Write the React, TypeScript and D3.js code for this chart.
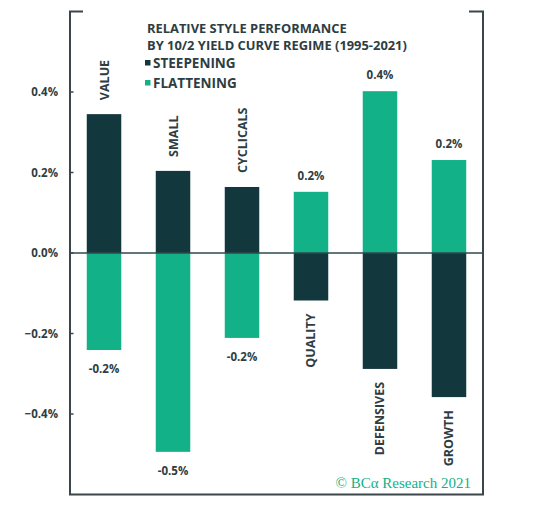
import React from "react";
import * as d3 from "d3";

const categories = ["VALUE", "SMALL", "CYCLICALS", "QUALITY", "DEFENSIVES", "GROWTH"];
const steepening = [0.345, 0.204, 0.164, -0.118, -0.288, -0.358];
const flattening = [-0.241, -0.494, -0.211, 0.152, 0.402, 0.231];
const flatLabels = ["-0.2%", "-0.5%", "-0.2%", "0.2%", "0.4%", "0.2%"];
const yTicks = [0.4, 0.2, 0.0, -0.2, -0.4];
const titleLines = ["RELATIVE STYLE PERFORMANCE", "BY 10/2 YIELD CURVE REGIME (1995-2021)"];
const legendItems = ["STEEPENING", "FLATTENING"];

const W = 541;
const H = 521;
const DARK = "#12373d";
const GREEN = "#13b187";
const TEXT = "#2e3d42";
const AXIS = "#3a4649";
const SANS = "'Open Sans', Lato, sans-serif";

export default function App() {
  const left = 70;
  const right = 483;
  const top = 11.5;
  const bottom = 494.5;
  const x = d3.scaleBand<string>().domain(categories).range([left, right]).paddingInner(0.5).paddingOuter(0.243);
  const y = d3.scaleLinear().domain([-0.6, 0.6]).range([bottom, top]);
  const bw = x.bandwidth();
  const y0 = y(0);

  return (
    <svg width={W} height={H} style={{ position: "absolute", left: 0, top: 0, background: "#fff" }}>
      {/* frame */}
      <path d={`M${left + 13},${top} H${left} V${bottom} H${right} V${top} H${right - 14}`} fill="none" stroke={AXIS} strokeWidth={2} />
      {/* y ticks */}
      {yTicks.map((t) => (
        <g key={t}>
          <line x1={left} x2={left + 3.5} y1={y(t)} y2={y(t)} stroke={AXIS} strokeWidth={1.5} />
          <text x={58} y={y(t)} dy="0.35em" textAnchor="end" fontFamily={SANS} fontWeight={700} fontSize={11.5} fill={TEXT}>
            {d3.format(".1f")(t)}%
          </text>
        </g>
      ))}
      {/* bars */}
      {categories.map((c, i) => {
        const xs = x(c)!;
        const s = steepening[i];
        const f = flattening[i];
        return (
          <g key={c}>
            <rect x={xs} width={bw} y={Math.min(y(s), y0)} height={Math.abs(y(s) - y0)} fill={DARK} />
            <rect x={xs} width={bw} y={Math.min(y(f), y0)} height={Math.abs(y(f) - y0)} fill={GREEN} />
          </g>
        );
      })}
      {/* zero line */}
      <line x1={left} x2={right} y1={y0} y2={y0} stroke="#2f4a4e" strokeWidth={1.3} />
      {/* category labels */}
      {categories.map((c, i) => {
        const cx = x(c)! + bw / 2;
        const s = steepening[i];
        const pos = s > 0;
        const yy = pos ? y(s) - 14 : y(s) + 13;
        return (
          <text
            key={c}
            transform={`translate(${cx + 4.5},${yy}) rotate(-90)`}
            textAnchor={pos ? "start" : "end"}
            fontFamily={SANS}
            fontWeight={700}
            fontSize={12.5}
            fill={TEXT}
          >
            {c}
          </text>
        );
      })}
      {/* flattening value labels */}
      {categories.map((c, i) => {
        const cx = x(c)! + bw / 2;
        const f = flattening[i];
        const yy = f > 0 ? y(f) - 16 : y(f) + 19;
        return (
          <text key={c} x={cx} y={yy} dy="0.35em" textAnchor="middle" fontFamily={SANS} fontWeight={700} fontSize={11.5} fill={TEXT}>
            {flatLabels[i]}
          </text>
        );
      })}
      {/* title */}
      {titleLines.map((t, i) => (
        <text key={t} x={147} y={33 + i * 17} fontFamily={SANS} fontWeight={700} fontSize={12.9} fill={TEXT}>
          {t}
        </text>
      ))}
      {/* legend */}
      {legendItems.map((t, i) => (
        <g key={t} transform={`translate(145,${63 + i * 20})`}>
          <rect x={0} y={-3} width={5.5} height={5.5} fill={i === 0 ? DARK : GREEN} />
          <text x={8} y={0} dy="0.36em" fontFamily={SANS} fontWeight={700} fontSize={13.5} fill={TEXT}>
            {t}
          </text>
        </g>
      ))}
      {/* source */}
      <text x={471} y={488} textAnchor="end" fontFamily="'Liberation Serif', 'DejaVu Serif', serif" fontSize={15} fill={GREEN}>
        © BCα Research 2021
      </text>
    </svg>
  );
}
